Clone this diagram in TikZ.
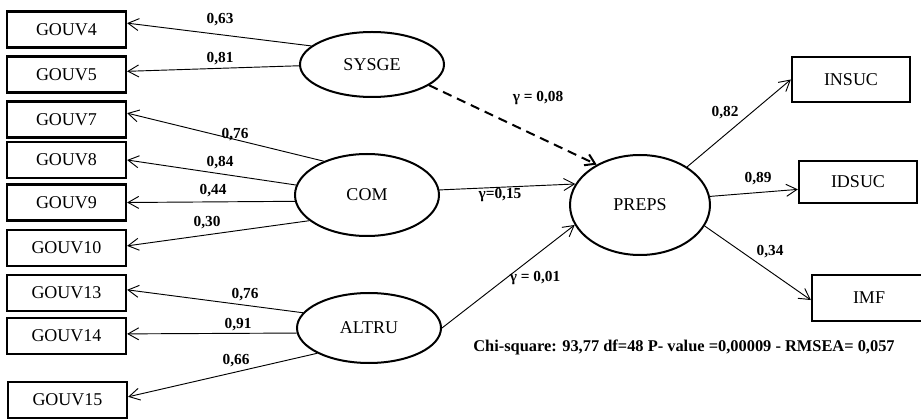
\documentclass[tikz,border=0pt]{standalone}
\usepackage{fontspec}
\setmainfont{Liberation Serif}
\usetikzlibrary{arrows.meta,shapes.geometric}
\begin{document}
\begin{tikzpicture}[x=0.75pt,y=-0.75pt,
  obs/.style={draw, line width=1.7pt, rectangle, minimum width=89.25pt,
    minimum height=27pt, inner sep=0pt, font=\fontsize{13.5}{15}\selectfont},
  lat/.style={draw, line width=1.5pt, ellipse, inner sep=0pt,
    font=\fontsize{13.5}{15}\selectfont},
  lbl/.style={inner sep=0pt, font=\fontsize{11.5}{13}\selectfont\bfseries},
  path/.style={line width=0.7pt, -{Straight Barb[length=8pt,width=9pt]}},
  dpath/.style={line width=1.5pt, dash pattern=on 7pt off 4.5pt,
    -{Straight Barb[length=7pt,width=9pt]}}
]
\useasboundingbox (0,0) rectangle (921,420);

% observed indicators of the exogenous constructs
\node[obs] (g4)  at (66.5,29.5)  {GOUV4};
\node[obs] (g5)  at (66.5,74.5)  {GOUV5};
\node[obs] (g7)  at (66.5,119.5) {GOUV7};
\node[obs] (g8)  at (66.5,160)   {GOUV8};
\node[obs] (g9)  at (66.5,202.5) {GOUV9};
\node[obs] (g10) at (66.5,248)   {GOUV10};
\node[obs] (g13) at (66.5,293)   {GOUV13};
\node[obs] (g14) at (66.5,336)   {GOUV14};
\node[obs] (g15) at (67.5,400)   {GOUV15};

% latent constructs
\node[lat, minimum width=108pt, minimum height=48.75pt] (sysge) at (372,64.5) {SYSGE};
\node[lat, minimum width=108pt, minimum height=61.5pt]  (com)   at (367,195)  {COM};
\node[lat, minimum width=108pt, minimum height=52.5pt]  (altru) at (369,328)  {ALTRU};
\node[lat, minimum width=105pt, minimum height=75pt]    (preps) at (640,205)  {PREPS};

% indicators of PREPS
\node[obs, minimum width=88.5pt, minimum height=33.75pt] (insuc) at (851,79.5) {INSUC};
\node[obs, minimum width=88.5pt, minimum height=31.5pt]  (idsuc) at (858,182)  {IDSUC};
\node[obs, minimum width=85.5pt, minimum height=34.5pt]  (imf)   at (869,298)  {IMF};

% loadings
\draw[path] (sysge.163.8) -- (g4.6.2);
\draw[path] (sysge.181)   -- (g5.3.4);
\draw[path] (com.142)     -- (g7.6.2);
\draw[path] (com.172)     -- (g8.east);
\draw[path] (com.185.6)   -- (g9.east);
\draw[path] (com.204)     -- (g10.2.9);
\draw[path] (altru.167)   -- (g13.3.8);
\draw[path] (altru.184)   -- (g14.2.9);
\draw[path] (altru.206)   -- (g15.3.8);

% structural paths
\draw[dpath] (sysge.340.5) -- (preps.137);
\draw[path]  (com.4)       -- (preps.162.4);
\draw[path]  (altru.0)     -- (preps.197.6);

% PREPS loadings
\draw[path] (preps.39.7) -- (insuc.west);
\draw[path] (preps.7.3)  -- (idsuc.187.7);
\draw[path] (preps.-18.4) -- (imf.182);

% coefficients
\node[lbl] (c1)  at (220,20)  {0,63};
\node[lbl] (c2)  at (220,59)  {0,81};
\node[lbl] (c3)  at (235,135) {0,76};
\node[lbl] (c4)  at (220,163) {0,84};
\node[lbl] (c5)  at (213,191) {0,44};
\node[lbl] (c6)  at (207,223) {0,30};
\node[lbl] (c7)  at (245,295) {0,76};
\node[lbl] (c8)  at (238,325) {0,91};
\node[lbl] (c9)  at (236,361) {0,66};
\node[lbl] (c10) at (538,98)  {γ = 0,08};
\node[lbl] (c11) at (500,195) {γ=0,15};
\node[lbl] (c12) at (535,278) {γ = 0,01};
\node[lbl] (c13) at (725,113) {0,82};
\node[lbl] (c14) at (758,179) {0,89};
\node[lbl] (c15) at (770,252) {0,34};

% fit indices
\node[lbl, font=\fontsize{12.3}{14}\selectfont\bfseries] (fit) at (684,347)
  {Chi-square: 93,77 df=48 P- value =0,00009 - RMSEA= 0,057};
\end{tikzpicture}
\end{document}
